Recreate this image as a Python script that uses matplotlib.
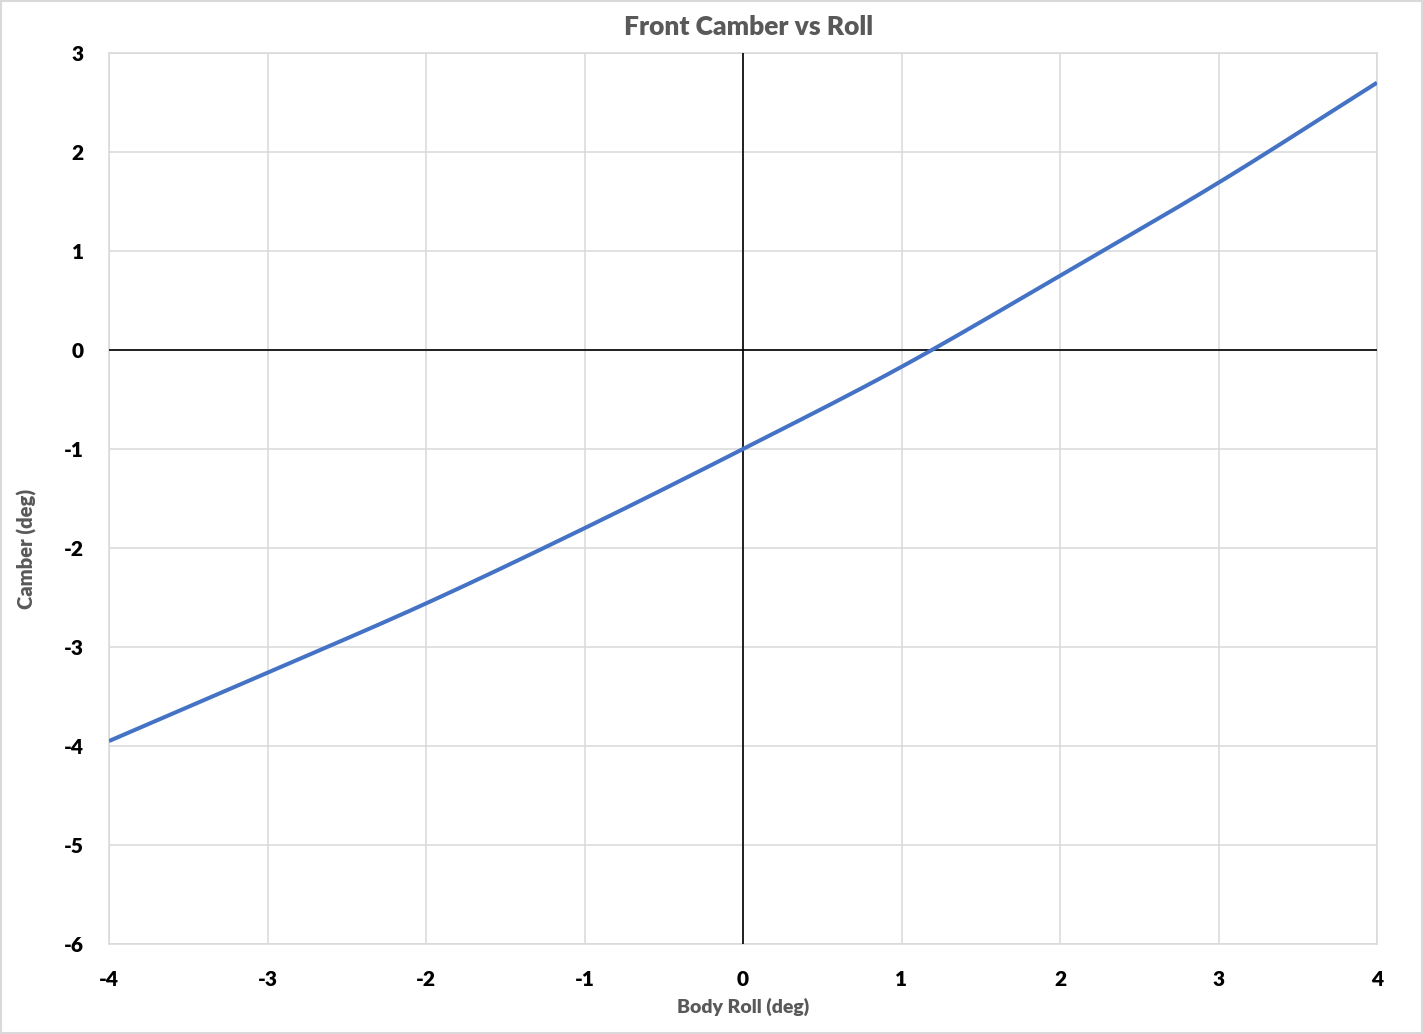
import numpy as np
import matplotlib.pyplot as plt
from matplotlib.patches import Rectangle

# body roll (deg) vs front camber (deg)
roll = [-4, -3, -2, -1, 0, 1, 2, 3, 4]
camber = [-3.95, -3.26, -2.56, -1.80, -1.00, -0.17, 0.75, 1.69, 2.70]

xticks = [-4, -3, -2, -1, 0, 1, 2, 3, 4]
yticks = [-6, -5, -4, -3, -2, -1, 0, 1, 2, 3]

plt.rcParams['font.family'] = ['Lato', 'DejaVu Sans']


def smooth(xs, ys, n=20):
    # catmull-rom through the points, like excel's "smoothed line"
    p = np.column_stack([xs, ys]).astype(float)
    p = np.vstack([2 * p[0] - p[1], p, 2 * p[-1] - p[-2]])
    out = []
    t = np.linspace(0, 1, n, endpoint=False)[:, None]
    for i in range(1, len(p) - 2):
        p0, p1, p2, p3 = p[i - 1], p[i], p[i + 1], p[i + 2]
        seg = 0.5 * ((2 * p1) + (-p0 + p2) * t + (2 * p0 - 5 * p1 + 4 * p2 - p3) * t ** 2
                     + (-p0 + 3 * p1 - 3 * p2 + p3) * t ** 3)
        out.append(seg)
    out.append(p[-2][None, :])
    out = np.vstack(out)
    return out[:, 0], out[:, 1]


fig = plt.figure(figsize=(14.23, 10.34), dpi=100)
ax = fig.add_axes([109 / 1423, 1 - 944 / 1034, 1268 / 1423, 891 / 1034])

grid_col = '#d9d9d9'
sx, sy = smooth(roll, camber)
ax.plot(sx, sy, color='#4472C4', linewidth=2.9, zorder=4, solid_capstyle='butt')
ax.axhline(0, color='black', linewidth=1.2, zorder=3)
ax.axvline(0, color='black', linewidth=1.2, zorder=3)

ax.set_xlim(-4, 4)
ax.set_ylim(-6, 3)
ax.set_xticks(xticks)
ax.set_yticks(yticks)
ax.set_xticklabels([str(v) for v in xticks], fontsize=15, fontweight='heavy')
ax.set_yticklabels([str(v) for v in yticks], fontsize=15, fontweight='heavy')
ax.tick_params(length=0)
ax.tick_params(axis='x', pad=19)
ax.tick_params(axis='y', pad=18)
ax.grid(True, color=grid_col, linewidth=1.1)
ax.set_axisbelow(True)
for s in ax.spines.values():
    s.set_color(grid_col)
    s.set_linewidth(1.1)

fig.text(749 / 1423, 1 - 27 / 1034, 'Front Camber vs Roll', ha='center', va='center',
         fontsize=19, fontweight='heavy', color='#595959')
fig.text(743 / 1423, 1 - 1007 / 1034, 'Body Roll (deg)', ha='center', va='center',
         fontsize=14, fontweight='heavy', color='#595959')
fig.text(27 / 1423, 1 - 549 / 1034, 'Camber (deg)', ha='center', va='center',
         rotation=90, fontsize=14.5, fontweight='heavy', color='#595959')

# chart area border
fig.patches.append(Rectangle((0.001, 0.001), 0.998, 0.998, transform=fig.transFigure,
                             fill=False, edgecolor=grid_col, linewidth=1.5))

fig.savefig('out.png', dpi=100)
